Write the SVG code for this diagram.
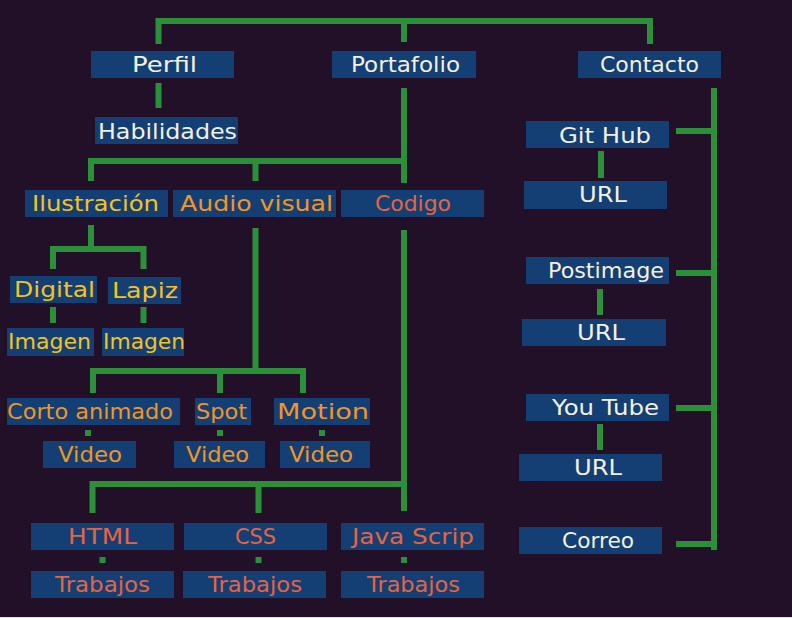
<svg xmlns="http://www.w3.org/2000/svg" width="792" height="618" viewBox="0 0 792 618">
<style>
.bg{fill:#211027}
.box{fill:#133f74}
.t{font-family:"DejaVu Sans","Liberation Sans",sans-serif;font-size:22px}
.w{fill:#f3f0e0}
.y{fill:#f6c21c}
.o{fill:#f39423}
.r{fill:#e8633e}
#connectors path{fill:none;stroke:#2c8f39;stroke-width:6;stroke-linecap:butt;stroke-linejoin:miter}
</style>
<rect class="bg" x="0" y="0" width="792" height="618"/>
<rect x="0" y="617" width="792" height="1" fill="#dcdcdc"/>
<g id="connectors">
<path d="M158.5 44 V21 H650 V44"/>
<path d="M404 21 V42"/>
<path d="M158.5 83 V108"/>
<path d="M404 88 V183"/>
<path d="M91 181 V161 H404"/>
<path d="M255.5 161 V181"/>
<path d="M91 225 V249"/>
<path d="M53 269 V249 H143.5 V269"/>
<path d="M53 307 V323"/>
<path d="M143.5 307 V323"/>
<path d="M255.5 228 V371"/>
<path d="M93 393 V371 H303 V393"/>
<path d="M220 371 V393"/>
<path d="M88 430 V436"/>
<path d="M220 430 V436"/>
<path d="M322 430 V436"/>
<path d="M404 230 V511"/>
<path d="M92.5 513 V484 H404"/>
<path d="M258.5 484 V513"/>
<path d="M102.5 557 V563"/>
<path d="M258.5 557 V563"/>
<path d="M404 557 V563"/>
<path d="M714 88 V550"/>
<path d="M676 131 H714"/>
<path d="M676 273 H714"/>
<path d="M676 408 H714"/>
<path d="M676 544 H714"/>
<path d="M601 151 V178"/>
<path d="M600 289 V315"/>
<path d="M600 424 V450"/>
</g>
<g id="perfil"><rect class="box" x="91" y="51" width="143" height="27"/><text class="t w" x="132" y="72" textLength="65" lengthAdjust="spacingAndGlyphs">Perfil</text></g>
<g id="portafolio"><rect class="box" x="332" y="51" width="144" height="27"/><text class="t w" x="351" y="72" textLength="109" lengthAdjust="spacingAndGlyphs">Portafolio</text></g>
<g id="contacto"><rect class="box" x="578" y="51" width="143" height="27"/><text class="t w" x="600" y="72" textLength="99" lengthAdjust="spacingAndGlyphs">Contacto</text></g>
<g id="habilidades"><rect class="box" x="95" y="117" width="143" height="27"/><text class="t w" x="98" y="139" textLength="139" lengthAdjust="spacingAndGlyphs">Habilidades</text></g>
<g id="ilustracion"><rect class="box" x="25" y="190" width="143" height="27"/><text class="t y" x="32" y="211" textLength="127" lengthAdjust="spacingAndGlyphs">Ilustración</text></g>
<g id="audiovisual"><rect class="box" x="173" y="190" width="163" height="27"/><text class="t o" x="180" y="211" textLength="153" lengthAdjust="spacingAndGlyphs">Audio visual</text></g>
<g id="codigo"><rect class="box" x="341" y="190" width="143" height="27"/><text class="t r" x="375" y="211" textLength="76" lengthAdjust="spacingAndGlyphs">Codigo</text></g>
<g id="github"><rect class="box" x="526" y="121" width="143" height="27"/><text class="t w" x="559" y="143" textLength="92" lengthAdjust="spacingAndGlyphs">Git Hub</text></g>
<g id="url-github"><rect class="box" x="524" y="181" width="143" height="28"/><text class="t w" x="579" y="202" textLength="48" lengthAdjust="spacingAndGlyphs">URL</text></g>
<g id="postimage"><rect class="box" x="526" y="257" width="143" height="27"/><text class="t w" x="548" y="278" textLength="116" lengthAdjust="spacingAndGlyphs">Postimage</text></g>
<g id="url-postimage"><rect class="box" x="522" y="319" width="144" height="27"/><text class="t w" x="577" y="340" textLength="48" lengthAdjust="spacingAndGlyphs">URL</text></g>
<g id="youtube"><rect class="box" x="526" y="394" width="143" height="27"/><text class="t w" x="552" y="415" textLength="107" lengthAdjust="spacingAndGlyphs">You Tube</text></g>
<g id="url-youtube"><rect class="box" x="519" y="454" width="143" height="27"/><text class="t w" x="574" y="475" textLength="48" lengthAdjust="spacingAndGlyphs">URL</text></g>
<g id="correo"><rect class="box" x="519" y="527" width="143" height="27"/><text class="t w" x="562" y="548" textLength="72" lengthAdjust="spacingAndGlyphs">Correo</text></g>
<g id="digital"><rect class="box" x="10" y="276" width="87" height="27"/><text class="t y" x="14" y="297" textLength="81" lengthAdjust="spacingAndGlyphs">Digital</text></g>
<g id="lapiz"><rect class="box" x="108" y="277" width="73" height="27"/><text class="t y" x="112" y="298" textLength="66" lengthAdjust="spacingAndGlyphs">Lapiz</text></g>
<g id="imagen-digital"><rect class="box" x="7" y="328" width="87" height="28"/><text class="t y" x="8" y="349" textLength="83" lengthAdjust="spacingAndGlyphs">Imagen</text></g>
<g id="imagen-lapiz"><rect class="box" x="102" y="328" width="82" height="28"/><text class="t y" x="103" y="349" textLength="82" lengthAdjust="spacingAndGlyphs">Imagen</text></g>
<g id="corto"><rect class="box" x="7" y="398" width="173" height="27"/><text class="t o" x="7" y="419" textLength="166" lengthAdjust="spacingAndGlyphs">Corto animado</text></g>
<g id="spot"><rect class="box" x="195" y="398" width="56" height="27"/><text class="t o" x="196" y="419" textLength="51" lengthAdjust="spacingAndGlyphs">Spot</text></g>
<g id="motion"><rect class="box" x="274" y="398" width="96" height="27"/><text class="t o" x="277" y="419" textLength="92" lengthAdjust="spacingAndGlyphs">Motion</text></g>
<g id="video-corto"><rect class="box" x="43" y="441" width="93" height="27"/><text class="t o" x="58" y="462" textLength="64" lengthAdjust="spacingAndGlyphs">Video</text></g>
<g id="video-spot"><rect class="box" x="174" y="441" width="91" height="27"/><text class="t o" x="186" y="462" textLength="63" lengthAdjust="spacingAndGlyphs">Video</text></g>
<g id="video-motion"><rect class="box" x="280" y="441" width="90" height="27"/><text class="t o" x="289" y="462" textLength="64" lengthAdjust="spacingAndGlyphs">Video</text></g>
<g id="html"><rect class="box" x="31" y="523" width="143" height="27"/><text class="t r" x="68" y="544" textLength="69" lengthAdjust="spacingAndGlyphs">HTML</text></g>
<g id="css"><rect class="box" x="184" y="523" width="143" height="27"/><text class="t r" x="235" y="544" textLength="41" lengthAdjust="spacingAndGlyphs">CSS</text></g>
<g id="javascrip"><rect class="box" x="341" y="523" width="143" height="27"/><text class="t r" x="352" y="544" textLength="122" lengthAdjust="spacingAndGlyphs">Java Scrip</text></g>
<g id="trabajos-html"><rect class="box" x="31" y="571" width="143" height="27"/><text class="t r" x="55" y="592" textLength="95" lengthAdjust="spacingAndGlyphs">Trabajos</text></g>
<g id="trabajos-css"><rect class="box" x="183" y="571" width="143" height="27"/><text class="t r" x="208" y="592" textLength="94" lengthAdjust="spacingAndGlyphs">Trabajos</text></g>
<g id="trabajos-js"><rect class="box" x="341" y="571" width="143" height="27"/><text class="t r" x="367" y="592" textLength="93" lengthAdjust="spacingAndGlyphs">Trabajos</text></g>
</svg>
